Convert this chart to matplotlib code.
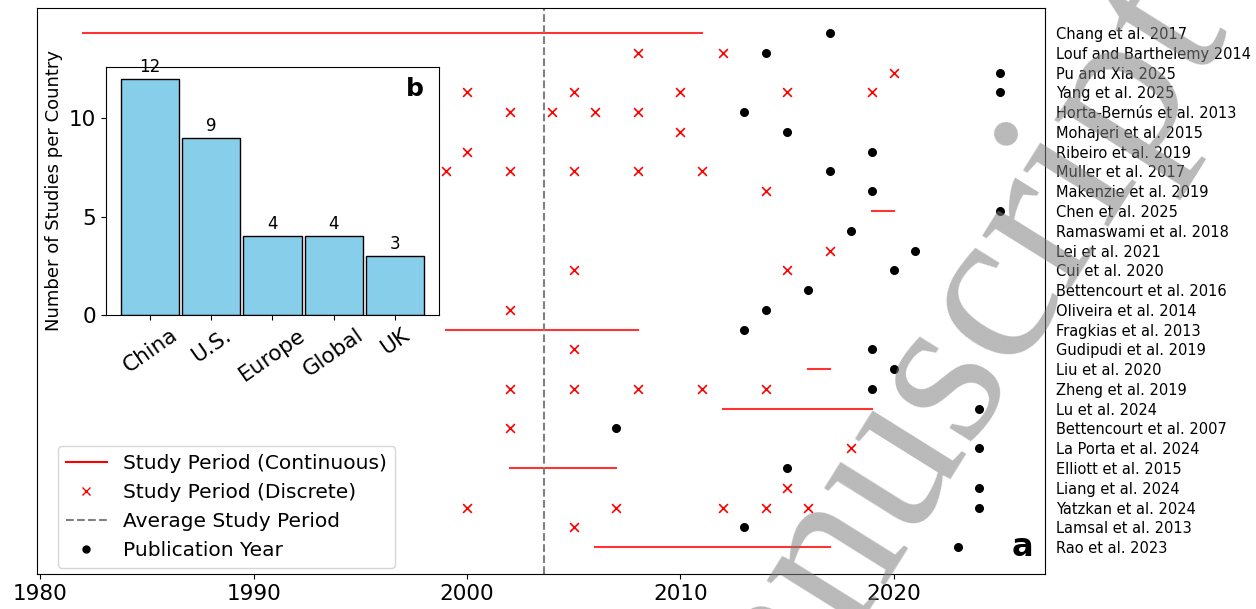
import numpy as np
import matplotlib
matplotlib.use("Agg")
import matplotlib.pyplot as plt
from matplotlib.lines import Line2D

# studies, top to bottom
studies = ["Chang et al. 2017", "Louf and Barthelemy 2014", "Pu and Xia 2025",
           "Yang et al. 2025", "Horta-Bernús et al. 2013", "Mohajeri et al. 2015",
           "Ribeiro et al. 2019", "Muller et al. 2017", "Makenzie et al. 2019",
           "Chen et al. 2025", "Ramaswami et al. 2018", "Lei et al. 2021",
           "Cui et al. 2020", "Bettencourt et al. 2016", "Oliveira et al. 2014",
           "Fragkias et al. 2013", "Gudipudi et al. 2019", "Liu et al. 2020",
           "Zheng et al. 2019", "Lu et al. 2024", "Bettencourt et al. 2007",
           "La Porta et al. 2024", "Elliott et al. 2015", "Liang et al. 2024",
           "Yatzkan et al. 2024", "Lamsal et al. 2013", "Rao et al. 2023"]
pub_years = [2017, 2014, 2025, 2025, 2013, 2015, 2019, 2017, 2019, 2025, 2018,
             2021, 2020, 2016, 2014, 2013, 2019, 2020, 2019, 2024, 2007, 2024,
             2015, 2024, 2024, 2013, 2023]
# continuous study periods (start, end), None if discrete only
continuous = [(1982, 2011), None, None, None, None, None, None, None, None,
              (2019, 2020), None, None, None, None, None, (1999, 2008), None,
              (2016, 2017), None, (2012, 2019), None, None, (2002, 2007), None,
              None, None, (2006, 2017)]
discrete = [[], [2008, 2012], [2020], [2000, 2005, 2010, 2015, 2019],
            [2002, 2004, 2006, 2008], [2010], [2000], [1999, 2002, 2005, 2008, 2011],
            [2014], [], [], [2017], [2005, 2015], [], [2002], [], [2005], [],
            [2002, 2005, 2008, 2011, 2014], [], [2002], [2018], [], [2015],
            [2000, 2007, 2012, 2014, 2016], [2005], []]
avg_study_period = 2003.6

countries = ["China", "U.S.", "Europe", "Global", "UK"]
country_counts = [12, 9, 4, 4, 3]

fig = plt.figure(figsize=(12.56, 6.09), dpi=100)
ax = fig.add_axes([0.0295, 0.0575, 0.8025, 0.9294])

ypos = np.arange(len(studies))
for i in range(len(studies)):
    if continuous[i] is not None:
        ax.plot(continuous[i], [ypos[i], ypos[i]], color='red', lw=1.5, alpha=0.8)
    if discrete[i]:
        ax.scatter(discrete[i], [ypos[i]] * len(discrete[i]), marker='x',
                   color='red', s=40, lw=1.2, zorder=3)
ax.scatter(pub_years, ypos, color='black', s=30, zorder=4)
ax.axvline(avg_study_period, color='grey', ls='--', lw=1.5)

ax.set_xlim(1979.85, 2027.1)
ax.set_ylim(len(studies) - 1 + 1.36, -1.27)
ax.set_xticks([1980, 1990, 2000, 2010, 2020])
ax.tick_params(axis='x', labelsize=15.5)
ax.yaxis.tick_right()
ax.set_yticks(ypos)
ax.set_yticklabels(studies, fontsize=10.5)
ax.tick_params(axis='y', length=0, pad=8)
ax.text(0.988, 0.019, 'a', transform=ax.transAxes, ha='right', va='bottom',
        fontsize=23, fontweight='bold')

handles = [Line2D([], [], color='red', lw=1.5),
           Line2D([], [], color='red', marker='x', ls='none', markersize=6),
           Line2D([], [], color='grey', ls='--', lw=1.5),
           Line2D([], [], color='black', marker='o', ls='none', markersize=5)]
labels = ["Study Period (Continuous)", "Study Period (Discrete)",
          "Average Study Period", "Publication Year"]
ax.legend(handles, labels, loc='lower left', bbox_to_anchor=(0.015, 0.0),
          borderaxespad=0.3, fontsize=14.5)

# inset: studies per country
ins = fig.add_axes([0.0844, 0.4828, 0.2651, 0.4072])
bars = ins.bar(countries, country_counts, width=0.95, color='skyblue',
               edgecolor='black', lw=1)
for b, v in zip(bars, country_counts):
    ins.text(b.get_x() + b.get_width() / 2, v + 0.15, str(v), ha='center',
             va='bottom', fontsize=12)
ins.set_ylabel("Number of Studies per Country", fontsize=13)
ins.tick_params(axis='y', labelsize=15.5)
ins.tick_params(axis='x', labelsize=15.5)
plt.setp(ins.get_xticklabels(), rotation=35, ha='center')
ins.text(0.955, 0.96, 'b', transform=ins.transAxes, ha='right', va='top',
         fontsize=18, fontweight='bold')

# watermark
fig.text(0.728, 0.30, "Manuscript", family='Liberation Serif', fontsize=160,
         color='#808080', alpha=0.55, rotation=58, ha='center', va='center',
         zorder=10)

fig.savefig("out.png", dpi=100)
